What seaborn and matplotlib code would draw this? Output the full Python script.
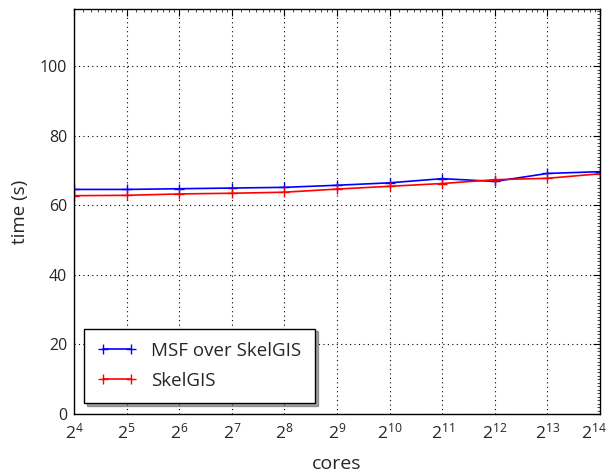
import numpy as np
import pandas as pd
import seaborn as sns
import matplotlib
matplotlib.use("Agg")
import matplotlib.pyplot as plt
from matplotlib.transforms import ScaledTranslation
from matplotlib.ticker import FixedLocator, MultipleLocator, FuncFormatter, NullFormatter

# Execution time versus number of cores
cores = [2**k for k in range(4, 15)]
msf_over_skelgis = [64.6, 64.6, 64.8, 65.0, 65.2, 65.8, 66.5, 67.7, 66.9, 69.2, 69.7]
skelgis = [62.8, 62.9, 63.3, 63.5, 63.8, 64.7, 65.5, 66.3, 67.4, 67.8, 69.1]
series_names = ["MSF over SkelGIS", "SkelGIS"]
series_colors = ["#0000ff", "#ff0000"]
yticks = [0, 20, 40, 60, 80, 100]

sns.set_theme(style="white")
plt.rcParams["font.family"] = ["Open Sans", "DejaVu Sans"]
plt.rcParams["mathtext.fontset"] = "custom"
plt.rcParams["mathtext.rm"] = "Open Sans"
plt.rcParams["mathtext.it"] = "Open Sans"

fig = plt.figure(figsize=(6.10, 4.74), dpi=100)
ax = fig.add_axes([74 / 610, 1 - 414 / 474, 526 / 610, 405 / 474])

for name, values, color in zip(series_names, [msf_over_skelgis, skelgis], series_colors):
    df = pd.DataFrame({"cores": cores, "time": values})
    sns.lineplot(data=df, x="cores", y="time", color=color, marker="+",
                 linewidth=1.2, markersize=7, markeredgewidth=1.0,
                 markeredgecolor=color, label=name, ax=ax)

ax.set_xscale("log", base=2)
ax.set_xlim(2**4, 2**14)
ax.set_ylim(0, 116.5)
ax.xaxis.set_major_locator(FixedLocator(cores))
ax.xaxis.set_major_formatter(FuncFormatter(lambda v, p: r"$2^{%d}$" % round(np.log2(v))))
ax.xaxis.set_minor_locator(FixedLocator([c * f for c in cores[:-1] for f in np.linspace(1, 2, 9)[1:-1]]))
ax.xaxis.set_minor_formatter(NullFormatter())
ax.yaxis.set_major_locator(FixedLocator(yticks))
ax.yaxis.set_minor_locator(MultipleLocator(1))
ax.yaxis.set_minor_formatter(NullFormatter())

ax.grid(True, which="major", color="black", linestyle=(0, (1, 3)), linewidth=0.8)
for s in ax.spines.values():
    s.set_color("black")
    s.set_linewidth(1.0)
ax.tick_params(axis="both", which="major", direction="in", length=5, width=0.8,
               color="black", labelsize=11.5, pad=5, top=True, right=True)
ax.tick_params(axis="both", which="minor", direction="in", length=2, width=0.5,
               color="black", top=True, right=True)
ax.tick_params(axis="x", labelsize=12.5, pad=6)

# keep the last exponent label inside the canvas
fig.canvas.draw()
last = ax.get_xticklabels()[-1]
last.set_transform(last.get_transform() + ScaledTranslation(-6 / 100, 0, fig.dpi_scale_trans))

ax.set_xlabel("cores", fontsize=14, labelpad=9)
ax.set_ylabel("time (s)", fontsize=13.5, labelpad=8)

handles, labels = ax.get_legend_handles_labels()
leg = ax.legend(handles, labels, loc="lower left", bbox_to_anchor=(0.019, 0.027),
                fontsize=13.5, frameon=True, fancybox=False, shadow=True,
                edgecolor="black", borderpad=0.7, labelspacing=0.65,
                handlelength=2.1, handletextpad=0.8, borderaxespad=0,
                markerscale=1.0, numpoints=2)
leg.get_frame().set_linewidth(1.0)

fig.savefig("out.png", dpi=100)
